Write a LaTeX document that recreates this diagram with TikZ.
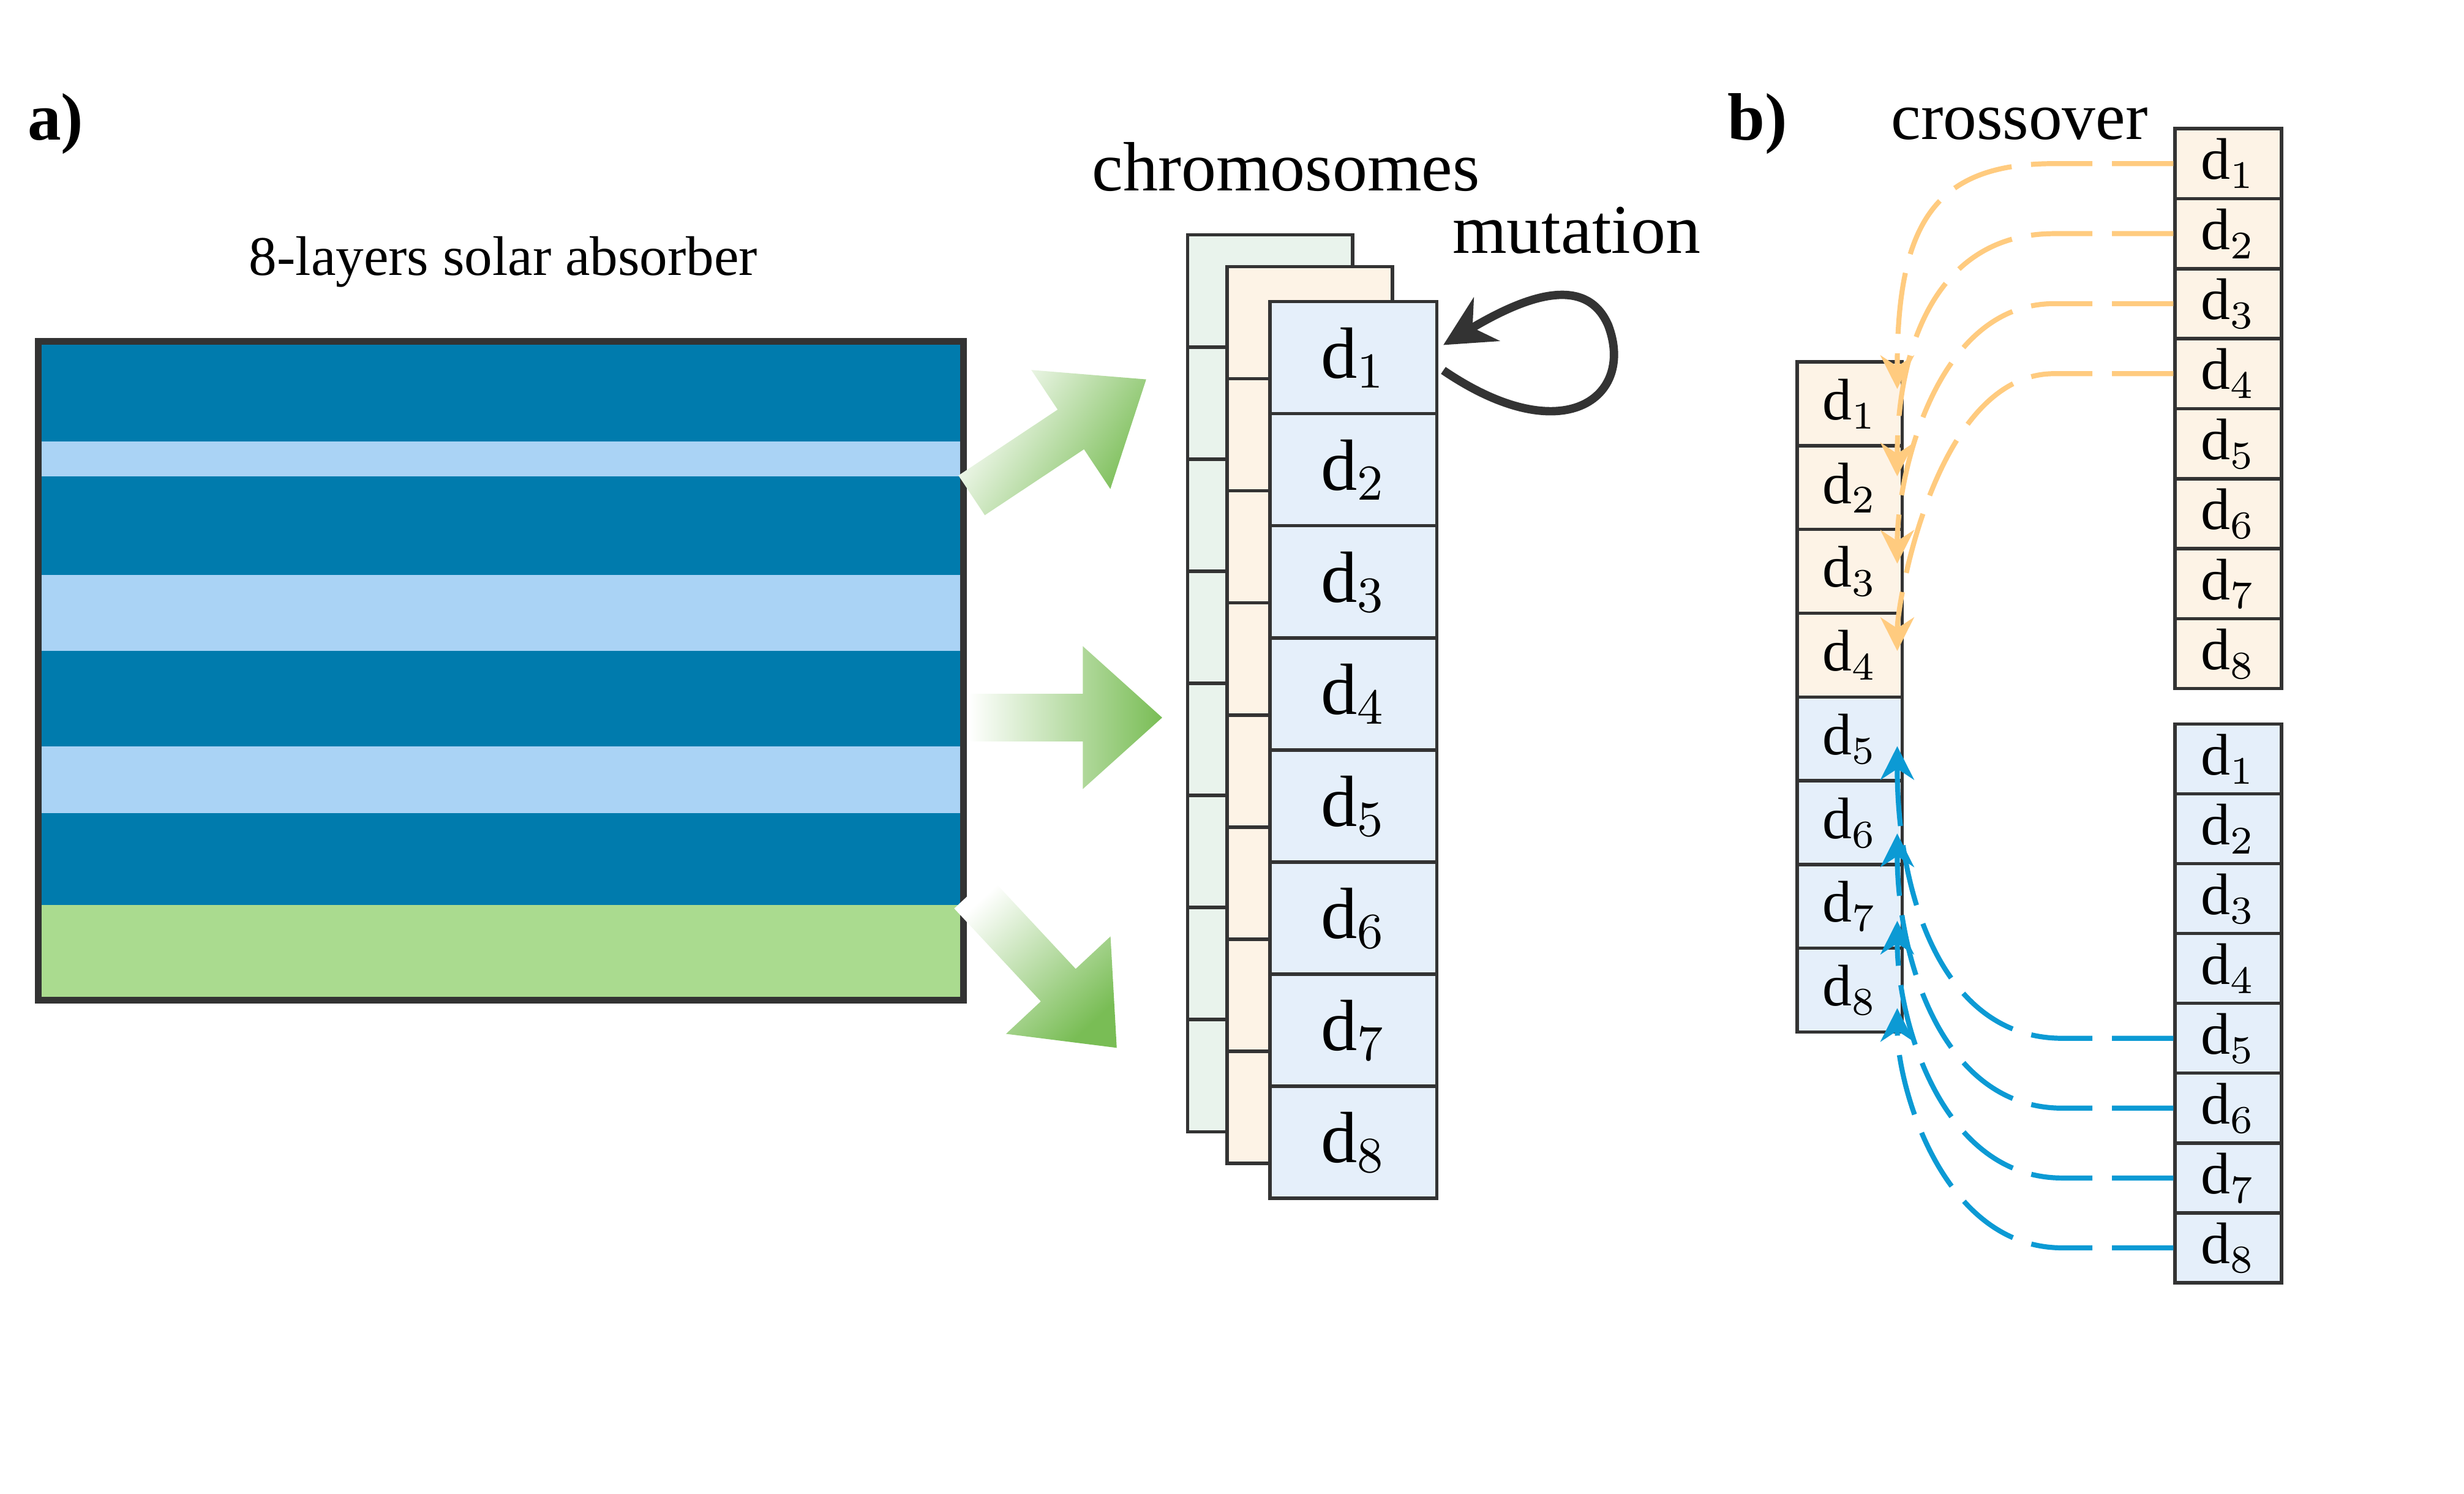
\documentclass[tikz,border=0pt]{standalone}
\usepackage{fontspec}
\setmainfont{Liberation Serif}
\usetikzlibrary{arrows.meta,calc}

\definecolor{darklayer}{HTML}{007BAD}
\definecolor{lightlayer}{HTML}{AAD3F5}
\definecolor{substrate}{HTML}{AADB8F}
\definecolor{arrowgreen}{HTML}{79BD55}
\definecolor{backcell}{HTML}{E9F3EC}
\definecolor{creamcell}{HTML}{FDF3E6}
\definecolor{bluecell}{HTML}{E5EFFA}
\definecolor{orangeline}{HTML}{FFCB7F}
\definecolor{blueline}{HTML}{0C9AD4}

\tikzset{
	cell/.style={draw=black!80, line width=0.6pt, inner sep=0pt},
	bigcell/.style={cell, minimum width=1.05cm, minimum height=0.706cm, font=\fontsize{13}{13}\selectfont},
	smallcell/.style={cell, minimum width=0.66cm, minimum height=0.5275cm, font=\fontsize{10.5}{10.5}\selectfont},
	tinycell/.style={cell, minimum width=0.67cm, minimum height=0.44cm, font=\fontsize{10.5}{10.5}\selectfont},
	swap/.style={line width=0.9pt, dash pattern=on 11pt off 3.5pt, -{Stealth[length=6pt,width=6pt]}},
	fatarrow/.style={left color=white, right color=arrowgreen}
}

\begin{document}
\begin{tikzpicture}[x=0.01cm,y=-0.01cm]
	\useasboundingbox (0,0) rectangle (1552,941);

	% labels
	\node [font=\bfseries\fontsize{12}{12}\selectfont] (lbla) at (35,78) {a)};
	\node [font=\bfseries\fontsize{12}{12}\selectfont] (lblb) at (1107,78) {b)};
	\node [font=\fontsize{10}{10}\selectfont] (title) at (317,165) {8-layers solar absorber};
	\node [font=\fontsize{12.5}{12.5}\selectfont] (chrom) at (810,105) {chromosomes};
	\node [font=\fontsize{12.5}{12.5}\selectfont] (mut) at (993,145) {mutation};
	\node [font=\fontsize{12}{12}\selectfont] (cross) at (1272,78) {crossover};

	% absorber stack
	\fill [darklayer] (24,215) rectangle (607,278);
	\fill [lightlayer] (24,278) rectangle (607,300);
	\fill [darklayer] (24,300) rectangle (607,362);
	\fill [lightlayer] (24,362) rectangle (607,410);
	\fill [darklayer] (24,410) rectangle (607,470);
	\fill [lightlayer] (24,470) rectangle (607,512);
	\fill [darklayer] (24,512) rectangle (607,570);
	\fill [substrate] (24,570) rectangle (607,630);
	\draw [line width=1.2pt, black!80] (24,215) rectangle (607,630);

	% green arrows
	\begin{scope}[shift={(612,312)}, rotate=33.6]
		\shade [fatarrow, shading angle=90-33.6] (0,-15) -- (75,-15) -- (75,-45) -- (132,0) -- (75,45) -- (75,15) -- (0,15) -- cycle;
	\end{scope}
	\begin{scope}[shift={(610,452)}]
		\shade [fatarrow] (0,-15) -- (72,-15) -- (72,-45) -- (122,0) -- (72,45) -- (72,15) -- (0,15) -- cycle;
	\end{scope}
	\begin{scope}[shift={(612,562)}, rotate=-47]
		\shade [fatarrow, shading angle=90-47] (0,-15) -- (80,-15) -- (80,-45) -- (134,0) -- (80,45) -- (80,15) -- (0,15) -- cycle;
	\end{scope}

	% chromosome stacks
	\foreach \i in {1,...,8} {
		\node [bigcell, fill=backcell, minimum width=1.04cm] (ba\i) at (800,{148+70.6*(\i-0.5)}) {};
	}
	\foreach \i in {1,...,8} {
		\node [bigcell, fill=creamcell, minimum width=1.04cm] (ca\i) at (825,{168+70.6*(\i-0.5)}) {};
	}
	\foreach \i in {1,...,8} {
		\node [bigcell, fill=bluecell] (fa\i) at (852.5,{190+70.6*(\i-0.5)}) {d$_{\i}$};
	}

	% mutation loop
	\draw [line width=1.5pt, black!80, -{Stealth[length=9pt,width=9pt]}] ($(fa1.east)+(3,8)$) .. controls (985,285) and (1030,250) .. (1013,205) .. controls (998,170) and (955,190) .. ($(fa1.east)+(3,-8)$);

	% crossover columns
	\foreach \i in {1,...,4} {
		\node [smallcell, fill=creamcell] (lb\i) at (1165,{228+52.75*(\i-0.5)}) {d$_{\i}$};
	}
	\foreach \i in {5,...,8} {
		\node [smallcell, fill=bluecell] (lb\i) at (1165,{228+52.75*(\i-0.5)}) {d$_{\i}$};
	}
	\foreach \i in {1,...,8} {
		\node [tinycell, fill=creamcell] (rt\i) at (1403.5,{81+44.1*(\i-0.5)}) {d$_{\i}$};
		\node [tinycell, fill=bluecell] (rb\i) at (1403.5,{456+44*(\i-0.5)}) {d$_{\i}$};
	}

	% crossover connectors
	\coordinate (oe1) at (1195,245);
	\coordinate (oe2) at (1195,300);
	\coordinate (oe3) at (1195,355);
	\coordinate (oe4) at (1195,410);
	\coordinate (be5) at (1195,470);
	\coordinate (be6) at (1195,525);
	\coordinate (be7) at (1195,580);
	\coordinate (be8) at (1195,635);
	\foreach \i in {1,...,4} {
		\draw [swap, orangeline] (rt\i.west) -- ++(-75,0) .. controls +(-75,0) and ($(oe\i)+(0,-130+25*\i)$) .. (oe\i);
	}
	\foreach \i in {5,...,8} {
		\draw [swap, blueline] (rb\i.west) -- ++(-70,0) .. controls +(-75,0) and ($(be\i)+(0,170-15*\i)$) .. (be\i);
	}

\end{tikzpicture}
\end{document}
